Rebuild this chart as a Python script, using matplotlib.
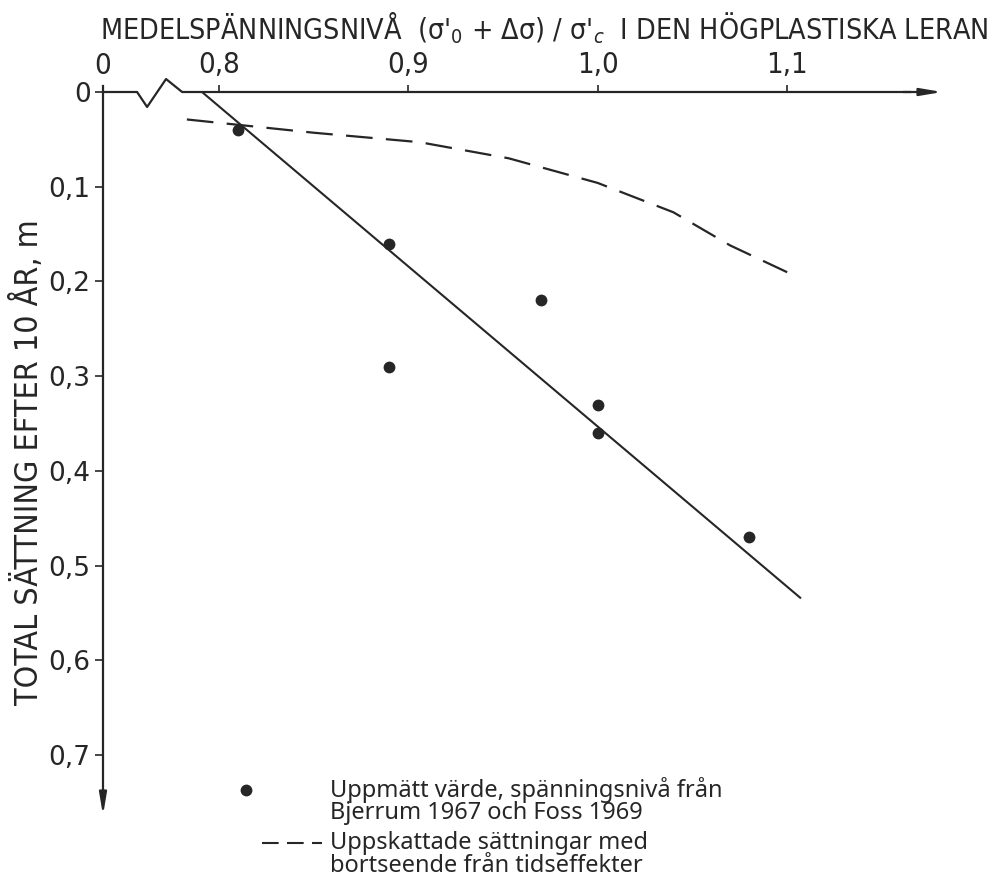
import matplotlib.pyplot as plt

# uppmätta värden
x_mat = [0.81, 0.89, 0.89, 0.97, 1.00, 1.00, 1.08]
y_mat = [0.04, 0.16, 0.29, 0.22, 0.33, 0.36, 0.47]

# inritad rät linje genom mätpunkterna
x_linje = [0.791, 1.107]
y_linje = [0.0, 0.534]

# uppskattade sättningar, utan tidseffekter
x_upp = [0.783, 0.85, 0.906, 0.953, 1.00, 1.04, 1.07, 1.103]
y_upp = [0.029, 0.043, 0.053, 0.070, 0.096, 0.127, 0.162, 0.193]

x_ticks = [0.8, 0.9, 1.0, 1.1]
x_ticklabels = ['0,8', '0,9', '1,0', '1,1']
y_ticks = [0, 0.1, 0.2, 0.3, 0.4, 0.5, 0.6, 0.7]
y_ticklabels = ['0', '0,1', '0,2', '0,3', '0,4', '0,5', '0,6', '0,7']

ink = '#262626'
plt.rcParams['font.family'] = ['DejaVu Sans']
plt.rcParams['font.stretch'] = 'condensed'
plt.rcParams['mathtext.fontset'] = 'dejavusans'

fig = plt.figure(figsize=(10.01, 8.76), dpi=100)
ax = fig.add_axes([103/1001, 58/876, 842/1001, 726/876])

xl, xr = 0.7387, 1.1835
yb = 0.7666
ax.set_xlim(xl, xr)
ax.set_ylim(yb, 0)
for s in ax.spines.values():
    s.set_visible(False)

# x-axel med brytning
ax.plot([xl, 0.7567, 0.7620, 0.7720, 0.7805, 1.165], [0, 0, 0.0158, -0.0137, 0, 0],
        color=ink, lw=1.6, clip_on=False)
ax.annotate('', xy=(xr, 0), xytext=(1.16, 0),
            arrowprops=dict(arrowstyle='-|>,head_length=1.3,head_width=0.22', color=ink, lw=1.6),
            annotation_clip=False)
# y-axel
ax.plot([xl, xl], [-0.006, 0.75], color=ink, lw=1.6, clip_on=False)
ax.annotate('', xy=(xl, yb), xytext=(xl, 0.74),
            arrowprops=dict(arrowstyle='-|>,head_length=1.3,head_width=0.22', color=ink, lw=1.6),
            annotation_clip=False)

ax.xaxis.tick_top()
ax.set_xticks([xl] + x_ticks)
ax.set_xticklabels(['0'] + x_ticklabels)
ax.set_yticks(y_ticks)
ax.set_yticklabels(y_ticklabels)
ax.tick_params(axis='x', direction='out', length=5, width=1.2, color=ink,
               labelsize=21, labelcolor=ink, pad=4)
ax.tick_params(axis='y', direction='out', length=6, width=1.2, color=ink,
               labelsize=19, labelcolor=ink, pad=3)
for t in ax.get_xticklabels():
    t.set_fontstretch('condensed')
for t in ax.get_yticklabels():
    t.set_fontstretch('normal')

ax.plot(x_linje, y_linje, color=ink, lw=1.5)
ax.plot(x_upp, y_upp, color=ink, lw=1.6, linestyle=(0, (12, 6)))
ax.plot(x_mat, y_mat, 'o', color=ink, markersize=8.5, markeredgewidth=0)

fig.text(544/1001, 1 - 28/876,
         r"MEDELSPÄNNINGSNIVÅ  (σ$'_0$ + Δσ) / σ$'_c$  I DEN HÖGPLASTISKA LERAN",
         ha='center', va='center', fontsize=20.5, color=ink, fontstretch='condensed')
fig.text(28/1001, 1 - 462/876, 'TOTAL SÄTTNING EFTER 10 ÅR, m',
         rotation=90, ha='center', va='center', fontsize=23, color=ink,
         fontstretch='condensed')

# teckenförklaring
fig.lines.append(plt.Line2D([246/1001], [1 - 790/876], marker='o', color=ink,
                            markersize=8.5, markeredgewidth=0, transform=fig.transFigure))
fig.lines.append(plt.Line2D([262/1001, 322/1001], [1 - 843/876, 1 - 843/876], color=ink,
                            lw=1.5, linestyle=(0, (8, 4)), transform=fig.transFigure))
leg_text = ['Uppmätt värde, spänningsnivå från\nBjerrum 1967 och Foss 1969',
            'Uppskattade sättningar med\nbortseende från tidseffekter']
leg_y = [801, 854.5]
for txt, yp in zip(leg_text, leg_y):
    fig.text(330/1001, 1 - yp/876, txt, ha='left', va='center', fontsize=17,
             color=ink, family=['Noto Sans', 'DejaVu Sans'], fontstretch='normal',
             linespacing=0.92)

plt.savefig('out.png', dpi=100, facecolor='white')
